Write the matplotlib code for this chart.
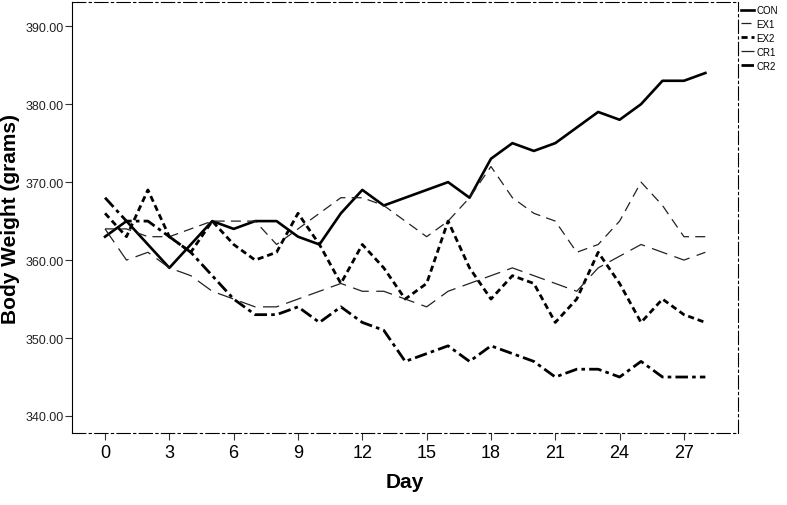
import numpy as np
import matplotlib.pyplot as plt
from matplotlib.ticker import FormatStrFormatter

plt.rcParams['font.family'] = ['Liberation Sans', 'DejaVu Sans']

days = list(range(29))

con = [363, 365, 362, 359, 362, 365, 364, 365, 365, 363, 362, 366, 369, 367, 368,
       369, 370, 368, 373, 375, 374, 375, 377, 379, 378, 380, 383, 383, 384]
ex1 = [364, 364, 363, 363, 364, 365, 365, 365, 362, 364, 366, 368, 368, 367, 365,
       363, 365, 368, 372, 368, 366, 365, 361, 362, 365, 370, 367, 363, 363]
ex2 = [366, 363, 369, 363, 361, 365, 362, 360, 361, 366, 362, 357, 362, 359, 355,
       357, 365, 359, 355, 358, 357, 352, 355, 361, 357, 352, 355, 353, 352]
cr1 = [364, 360, 361, 359, 358, 356, 355, 354, 354, 355, 356, 357, 356, 356, 355,
       354, 356, 357, 358, 359, 358, 357, 356, 359, 360.5, 362, 361, 360, 361]
cr2 = [368, 365, 365, 363, 361, 358, 355, 353, 353, 354, 352, 354, 352, 351, 347,
       348, 349, 347, 349, 348, 347, 345, 346, 346, 345, 347, 345, 345, 345]

x_ticks = list(range(0, 28, 3))
y_ticks = [340, 350, 360, 370, 380, 390]

fig = plt.figure(figsize=(7.87, 5.06), dpi=100)
ax = fig.add_axes([0.0915, 0.142, 0.8462, 0.852])

ax.plot(days, con, color='black', lw=1.9, ls='-', label='CON')
ax.plot(days, ex1, color='#222222', lw=0.9, ls=(0, (8, 5)), label='EX1')
ax.plot(days, ex2, color='black', lw=2.0, ls=(0, (2.2, 1.4)), label='EX2')
ax.plot(days, cr1, color='#222222', lw=0.9, ls=(0, (13, 6)), label='CR1')
ax.plot(days, cr2, color='black', lw=2.0, ls=(0, (4.5, 1.5, 1.3, 1.5)), label='CR2')

ax.set_xlim(-1.54, 29.52)
ax.set_ylim(337.8, 393.1)
ax.set_xticks(x_ticks)
ax.set_yticks(y_ticks)
ax.yaxis.set_major_formatter(FormatStrFormatter('%.2f'))
ax.tick_params(axis='x', labelsize=13, length=5, width=0.8, color='#333333', pad=3)
ax.tick_params(axis='y', labelsize=9, length=5, width=0.8, color='#333333', pad=1,
               labelcolor='#222222')

for side in ['top', 'right', 'bottom']:
    ax.spines[side].set_linestyle((0, (12, 3, 2, 3)))
    ax.spines[side].set_linewidth(0.8)
ax.spines['left'].set_linewidth(0.8)

ax.set_xlabel('Day', fontsize=15, fontweight='bold', labelpad=8)
ax.set_ylabel('Body Weight (grams)', fontsize=15, fontweight='bold', labelpad=4)

ax.legend(loc='upper left', bbox_to_anchor=(1.0, 1.0), frameon=False, fontsize=7,
          handlelength=1.4, handletextpad=0.2, labelspacing=0.4,
          borderaxespad=0.1, borderpad=0.2)

fig.savefig('out.png', dpi=100)
